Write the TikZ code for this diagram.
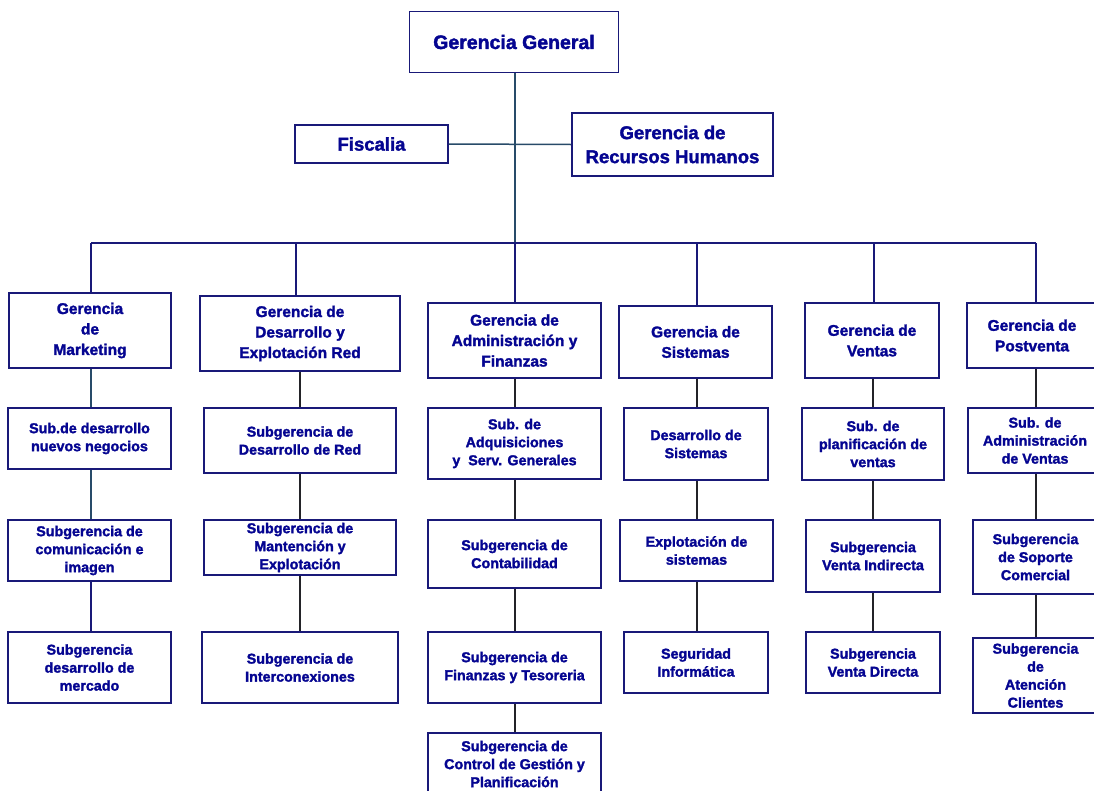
\documentclass[tikz,border=0pt]{standalone}
\usepackage{fontspec}
\setmainfont{Liberation Sans}[BoldFeatures={FakeBold=1.8}]
\definecolor{boxcol}{RGB}{25,25,120}
\definecolor{txtcol}{RGB}{5,5,145}
\definecolor{trunkcol}{RGB}{40,75,105}
\definecolor{darkcon}{RGB}{35,35,40}
\tikzset{
  box/.style={draw=boxcol, line width=1.8pt, fill=white, inner sep=0pt, align=center, text=txtcol},
  subbox/.style={box, font=\bfseries\fontsize{14.3}{18}\selectfont},
  mainbox/.style={box, font=\bfseries\fontsize{15.5}{20.5}\selectfont},
  topbox/.style={box, font=\bfseries\fontsize{18.5}{24}\selectfont},
  trunk/.style={draw=trunkcol, line width=1.5pt},
  busline/.style={draw=boxcol, line width=2.4pt},
  drop/.style={draw=boxcol, line width=1.2pt},
  tealcon/.style={draw=trunkcol, line width=1.5pt},
  navycon/.style={draw=boxcol, line width=1.5pt},
  blackcon/.style={draw=darkcon, line width=1.8pt}
}
\begin{document}
\begin{tikzpicture}[x=1pt,y=-1pt]
\useasboundingbox (0,0) rectangle (1094,790);
% top level
\node[topbox, font=\bfseries\fontsize{19.5}{24}\selectfont, minimum width=209pt, minimum height=61pt] (gg) at (514,42) {Gerencia General};
\node[topbox, minimum width=153pt, minimum height=38pt] (fi) at (371.5,144) {Fiscalia};
\node[topbox, minimum width=201pt, minimum height=63pt] (rh) at (672.5,144.5) {Gerencia de\\Recursos Humanos};
\coordinate (busL) at (91,243);
\coordinate (busR) at (1036,243);
% connectors top
\draw[trunk] (gg.south -| 515,0) -- (515,243);
\draw[trunk] (fi.east) -- (rh.west);
\draw[busline] (busL) -- (busR);
% row 1
\node[mainbox, minimum width=162pt, minimum height=75pt] (mk) at (90,330.5) {Gerencia\\de\\Marketing};
\node[mainbox, minimum width=200pt, minimum height=75pt] (dr) at (300,333.5) {Gerencia de\\Desarrollo y\\Explotación Red};
\node[mainbox, minimum width=173pt, minimum height=75pt] (af) at (514.5,340.5) {Gerencia de\\Administración y\\Finanzas};
\node[mainbox, minimum width=153pt, minimum height=72pt] (si) at (695.5,342) {Gerencia de\\Sistemas};
\node[mainbox, minimum width=134pt, minimum height=75pt] (ve) at (872,340.5) {Gerencia de\\Ventas};
\node[mainbox, minimum width=130pt, minimum height=65pt] (pv) at (1032,335.5) {Gerencia de\\Postventa};
% row 2
\node[subbox, minimum width=163pt, minimum height=61pt] (a2) at (89.5,438.5) {Sub.de desarrollo\\nuevos negocios};
\node[subbox, minimum width=192pt, minimum height=65pt] (b2) at (300,440.5) {Subgerencia de\\Desarrollo de Red};
\node[subbox, minimum width=173pt, minimum height=71pt] (c2) at (514.5,443.5) {Sub. de\\Adquisiciones\\y\ \ Serv. Generales};
\node[subbox, minimum width=144pt, minimum height=72pt] (d2) at (696,444) {Desarrollo de\\Sistemas};
\node[subbox, minimum width=142pt, minimum height=72pt] (e2) at (873,444) {Sub. de\\planificación de\\ventas};
\node[subbox, minimum width=134pt, minimum height=65pt] (f2) at (1035,440.5) {Sub. de\\Administración\\de Ventas};
% row 3
\node[subbox, minimum width=163pt, minimum height=61pt] (a3) at (89.5,550.5) {Subgerencia de\\comunicación e\\imagen};
\node[subbox, minimum width=192pt, minimum height=55pt] (b3) at (300,547.5) {Subgerencia de\\Mantención y\\Explotación};
\node[subbox, minimum width=173pt, minimum height=68pt] (c3) at (514.5,554) {Subgerencia de\\Contabilidad};
\node[subbox, minimum width=153pt, minimum height=61pt] (d3) at (696.5,550.5) {Explotación de\\sistemas};
\node[subbox, minimum width=134pt, minimum height=72pt] (e3) at (873,556) {Subgerencia\\Venta Indirecta};
\node[subbox, minimum width=125pt, minimum height=74pt] (f3) at (1035.5,557) {Subgerencia\\de Soporte\\Comercial};
% row 4
\node[subbox, minimum width=163pt, minimum height=71pt] (a4) at (89.5,667.5) {Subgerencia\\desarrollo de\\mercado};
\node[subbox, minimum width=196pt, minimum height=71pt] (b4) at (300,667.5) {Subgerencia de\\Interconexiones};
\node[subbox, minimum width=173pt, minimum height=71pt] (c4) at (514.5,667.5) {Subgerencia de\\Finanzas y Tesoreria};
\node[subbox, minimum width=144pt, minimum height=61pt] (d4) at (696,662.5) {Seguridad\\Informática};
\node[subbox, minimum width=134pt, minimum height=61pt] (e4) at (873,662.5) {Subgerencia\\Venta Directa};
\node[subbox, minimum width=125pt, minimum height=75pt] (f4) at (1035.5,675.5) {Subgerencia\\de\\Atención\\Clientes};
% row 5
\node[subbox, minimum width=173pt, minimum height=62pt] (c5) at (514.5,764) {Subgerencia de\\Control de Gestión y\\Planificación};
% drops from bus
\draw[drop] (busL) -- (busL |- mk.north);
\draw[drop] (dr.north -| 296,0) -- (296,243);
\draw[drop] (af.north -| 515,0) -- (515,243);
\draw[drop] (si.north -| 697,0) -- (697,243);
\draw[drop] (ve.north -| 874,0) -- (874,243);
\draw[drop] (busR) -- (busR |- pv.north);
% column connectors
\draw[tealcon] (mk.south -| 91,0) -- (a2.north -| 91,0);
\draw[tealcon] (a2.south -| 91,0) -- (a3.north -| 91,0);
\draw[navycon] (a3.south -| 91,0) -- (a4.north -| 91,0);
\draw[blackcon] (dr.south) -- (b2.north);
\draw[blackcon] (b2.south) -- (b3.north);
\draw[blackcon] (b3.south) -- (b4.north);
\draw[blackcon] (af.south -| 515,0) -- (c2.north -| 515,0);
\draw[blackcon] (c2.south -| 515,0) -- (c3.north -| 515,0);
\draw[blackcon] (c3.south -| 515,0) -- (c4.north -| 515,0);
\draw[blackcon] (c4.south -| 515,0) -- (c5.north -| 515,0);
\draw[blackcon] (si.south -| 697,0) -- (d2.north -| 697,0);
\draw[blackcon] (d2.south -| 697,0) -- (d3.north -| 697,0);
\draw[blackcon] (d3.south -| 697,0) -- (d4.north -| 697,0);
\draw[blackcon] (ve.south -| 873,0) -- (e2.north -| 873,0);
\draw[blackcon] (e2.south -| 873,0) -- (e3.north -| 873,0);
\draw[blackcon] (e3.south -| 873,0) -- (e4.north -| 873,0);
\draw[blackcon] (pv.south -| 1036,0) -- (f2.north -| 1036,0);
\draw[blackcon] (f2.south -| 1036,0) -- (f3.north -| 1036,0);
\draw[blackcon] (f3.south -| 1036,0) -- (f4.north -| 1036,0);
\end{tikzpicture}
\end{document}
